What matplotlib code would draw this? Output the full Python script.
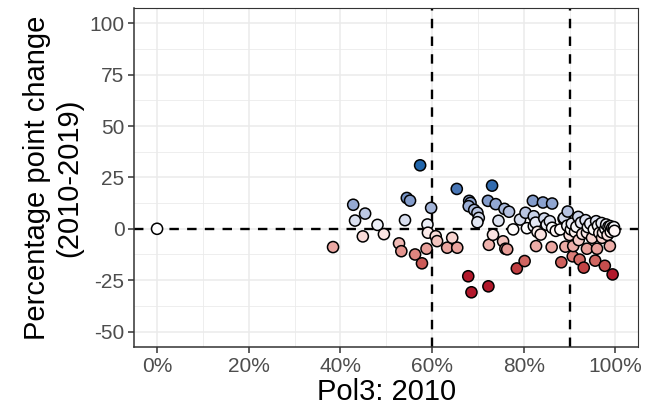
import numpy as np
import matplotlib
matplotlib.use('Agg')
import matplotlib.pyplot as plt
from matplotlib.colors import ListedColormap, Normalize
from matplotlib.ticker import FixedLocator, PercentFormatter

plt.rcParams['font.family'] = ['Liberation Sans', 'DejaVu Sans']
plt.rcParams['axes.unicode_minus'] = False

# Pol3 coverage in 2010 (share) and change 2010-2019 (percentage points)
pol3_2010 = [0.000, 0.384, 0.428, 0.432, 0.449, 0.454, 0.481, 0.495, 0.528, 0.533,
             0.541, 0.545, 0.552, 0.563, 0.574, 0.578, 0.588, 0.590, 0.591, 0.598,
             0.608, 0.611, 0.633, 0.644, 0.654, 0.655, 0.679, 0.681, 0.684, 0.680,
             0.686, 0.692, 0.699, 0.702, 0.699, 0.722, 0.723, 0.724, 0.731, 0.733,
             0.739, 0.745, 0.755, 0.758, 0.760, 0.764, 0.768, 0.777, 0.785, 0.792,
             0.802, 0.804, 0.807, 0.820, 0.822, 0.822, 0.826, 0.827, 0.830, 0.837,
             0.842, 0.845, 0.850, 0.857, 0.861, 0.862, 0.862, 0.870, 0.880, 0.882,
             0.887, 0.888, 0.891, 0.895, 0.896, 0.900, 0.903, 0.905, 0.907, 0.908,
             0.912, 0.915, 0.919, 0.920, 0.922, 0.925, 0.928, 0.931, 0.935, 0.938,
             0.938, 0.940, 0.945, 0.949, 0.953, 0.956, 0.958, 0.960, 0.962, 0.965,
             0.970, 0.971, 0.973, 0.977, 0.978, 0.980, 0.983, 0.985, 0.988, 0.989,
             0.990, 0.993, 0.994, 0.996, 0.997, 0.998]
pp_change = [0.0, -8.9, 11.7, 4.0, -3.7, 7.4, 1.9, -2.6, -7.1, -10.9,
             4.2, 15.0, 13.7, -12.5, 30.9, -16.8, -9.7, 2.1, -1.9, 10.2,
             -3.6, -6.0, -9.2, -4.4, 19.4, -9.2, -23.1, 13.6, 12.6, 11.0,
             -30.9, 9.2, 7.8, 5.3, 3.2, 13.6, -28.0, -7.8, 21.0, -2.9,
             12.0, 3.9, -6.1, 9.7, -9.7, -10.0, 8.3, -0.3, -19.3, 4.5,
             -15.7, 7.8, 0.3, 13.6, 6.1, 1.3, 3.0, -8.4, -1.5, -2.8,
             12.8, 5.0, 2.0, 3.7, -8.9, 12.3, 0.5, -1.0, -0.3, -16.3,
             4.9, 5.3, -8.7, 1.5, 8.4, -3.0, -0.3, 2.5, -13.4, -8.4,
             -1.5, 1.0, 5.8, -5.5, -15.0, 3.0, -2.5, -18.9, 4.2, -9.7,
             -1.9, 0.8, 2.5, -4.4, -0.3, -15.5, 3.7, -9.7, 1.5, -2.0,
             2.8, -4.4, -1.9, -18.0, 0.0, 2.1, -3.0, 1.0, -8.4, 1.3,
             -1.5, 0.5, -22.2, -0.3, 0.8, -1.0]

x_ticks = [0, 0.2, 0.4, 0.6, 0.8, 1.0]
y_ticks = [-50, -25, 0, 25, 50, 75, 100]
vlines = [0.6, 0.9]


def srgb_to_lab(rgb):
    c = np.asarray(rgb, dtype=float)
    c = np.where(c > 0.04045, ((c + 0.055) / 1.055) ** 2.4, c / 12.92)
    m = np.array([[0.4124, 0.3576, 0.1805],
                  [0.2126, 0.7152, 0.0722],
                  [0.0193, 0.1192, 0.9505]])
    xyz = m @ c / np.array([0.95047, 1.0, 1.08883])
    f = np.where(xyz > 216 / 24389, np.cbrt(xyz), (24389 / 27 * xyz + 16) / 116)
    return np.array([116 * f[1] - 16, 500 * (f[0] - f[1]), 200 * (f[1] - f[2])])


def lab_to_srgb(lab):
    L, a, b = lab
    fy = (L + 16) / 116
    fx = fy + a / 500
    fz = fy - b / 200
    f = np.array([fx, fy, fz])
    xyz = np.where(f ** 3 > 216 / 24389, f ** 3, (116 * f - 16) / (24389 / 27))
    xyz = xyz * np.array([0.95047, 1.0, 1.08883])
    m = np.array([[3.2406, -1.5372, -0.4986],
                  [-0.9689, 1.8758, 0.0415],
                  [0.0557, -0.2040, 1.0570]])
    c = m @ xyz
    c = np.where(c > 0.0031308, 1.055 * np.abs(c) ** (1 / 2.4) - 0.055, 12.92 * c)
    return np.clip(c, 0, 1)


# red - white - blue, interpolated in Lab like ggplot's gradient2
low = srgb_to_lab(np.array([178, 24, 43]) / 255)
mid = srgb_to_lab(np.array([1.0, 1.0, 1.0]))
high = srgb_to_lab(np.array([33, 102, 172]) / 255)
cols = []
for t in np.linspace(0, 1, 256):
    if t < 0.5:
        lab = low + (mid - low) * (t / 0.5)
    else:
        lab = mid + (high - mid) * ((t - 0.5) / 0.5)
    cols.append(lab_to_srgb(lab))
cmap = ListedColormap(cols)
# values past the limits are squished to the end colours
lim = 22

fig = plt.figure(figsize=(6.48, 4.16), dpi=100)
ax = fig.add_axes([0.207, 0.166, 0.778, 0.815])

ax.set_xlim(-0.05, 1.05)
ax.set_ylim(-57.5, 107.5)
ax.xaxis.set_major_locator(FixedLocator(x_ticks))
ax.xaxis.set_minor_locator(FixedLocator([0.1, 0.3, 0.5, 0.7, 0.9]))
ax.yaxis.set_major_locator(FixedLocator(y_ticks))
ax.yaxis.set_minor_locator(FixedLocator([-37.5, -12.5, 12.5, 37.5, 62.5, 87.5]))
ax.xaxis.set_major_formatter(PercentFormatter(1.0, decimals=0))

ax.grid(True, which='major', color='#EBEBEB', linewidth=1.1, zorder=0)
ax.grid(True, which='minor', color='#EBEBEB', linewidth=0.6, zorder=0)
ax.set_axisbelow(True)

for s in ax.spines.values():
    s.set_color('#333333')
    s.set_linewidth(0.8)
ax.spines['left'].set_linewidth(1.1)
ax.spines['bottom'].set_linewidth(1.1)

ax.tick_params(which='major', length=4, width=1.1, color='#333333',
               labelsize=15, labelcolor='#4D4D4D', pad=3)
ax.tick_params(which='minor', length=0)

ax.axhline(0, color='black', linewidth=1.7, linestyle=(0, (4, 3.5)), zorder=1)
for v in vlines:
    ax.axvline(v, color='black', linewidth=1.7, linestyle=(0, (4, 3.5)), zorder=1)

ax.scatter(pol3_2010, np.array(pp_change), c=np.clip(pp_change, -lim, lim), cmap=cmap,
           norm=Normalize(-lim, lim), s=64, edgecolors='black',
           linewidths=1.1, zorder=3)

ax.set_xlabel('Pol3: 2010', fontsize=21, labelpad=2)
ax.set_ylabel('Percentage point change\n(2010-2019)', fontsize=21, labelpad=4)

fig.savefig('out.png', dpi=100)
